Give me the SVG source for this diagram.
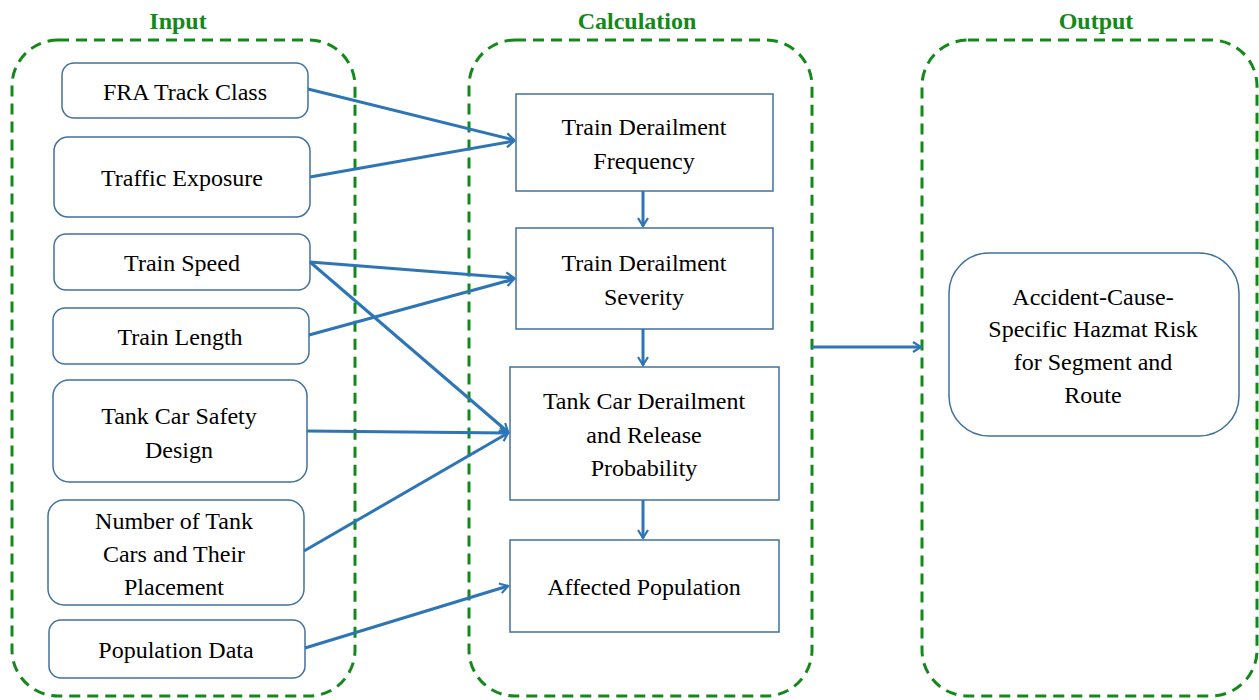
<svg xmlns="http://www.w3.org/2000/svg" width="1259" height="700" viewBox="0 0 1259 700">
<style>
.grp{fill:none;stroke:#13891a;stroke-width:3;stroke-dasharray:11 7}
.title{font-weight:bold;font-size:24px;fill:#13891a;text-anchor:middle}
.nb{fill:#fff;stroke:#41719c;stroke-width:1.5}
.t{font-size:24px;fill:#000;text-anchor:middle}
.c{fill:none;stroke:#2e75b6;stroke-width:3}
</style>
<defs>
<marker id="ah" viewBox="0 0 12 12" refX="10" refY="6" markerWidth="12" markerHeight="12" markerUnits="userSpaceOnUse" orient="auto">
<path d="M2,1 L10,6 L2,11" fill="none" stroke="#2e75b6" stroke-width="2.2"/>
</marker>
</defs>
<rect width="1259" height="700" fill="#fff"/>
<g font-family="Liberation Serif, Times New Roman, serif">
<g id="group-input">
<rect class="grp" x="12" y="40" width="343" height="656" rx="46"/>
<text class="title" x="178" y="29" font-family="Liberation Serif, serif">Input</text>
</g>
<g id="group-calculation">
<rect class="grp" x="469" y="40" width="343" height="656" rx="46"/>
<text class="title" x="637" y="29" font-family="Liberation Serif, serif">Calculation</text>
</g>
<g id="group-output">
<rect class="grp" x="922" y="40" width="335" height="656" rx="46"/>
<text class="title" x="1096" y="29" font-family="Liberation Serif, serif">Output</text>
</g>
<g id="n-fra"><rect class="nb" x="62" y="63" width="246" height="55" rx="12"/><text class="t" x="185" y="100" font-family="Liberation Serif, serif">FRA Track Class</text></g>
<g id="n-traffic"><rect class="nb" x="54" y="137" width="256" height="80" rx="14"/><text class="t" x="182" y="186" font-family="Liberation Serif, serif">Traffic Exposure</text></g>
<g id="n-speed"><rect class="nb" x="54" y="234" width="256" height="56" rx="12"/><text class="t" x="182" y="271" font-family="Liberation Serif, serif">Train Speed</text></g>
<g id="n-length"><rect class="nb" x="53" y="308" width="256" height="56" rx="12"/><text class="t" x="180" y="345" font-family="Liberation Serif, serif">Train Length</text></g>
<g id="n-safety"><rect class="nb" x="53" y="380" width="254" height="102" rx="16"/><text class="t" x="179" y="424" font-family="Liberation Serif, serif">Tank Car Safety</text><text class="t" x="179" y="458" font-family="Liberation Serif, serif">Design</text></g>
<g id="n-number"><rect class="nb" x="48" y="500" width="256" height="105" rx="16"/><text class="t" x="174" y="529" font-family="Liberation Serif, serif">Number of Tank</text><text class="t" x="174" y="562" font-family="Liberation Serif, serif">Cars and Their</text><text class="t" x="174" y="595" font-family="Liberation Serif, serif">Placement</text></g>
<g id="n-popdata"><rect class="nb" x="49" y="620" width="256" height="58" rx="12"/><text class="t" x="176" y="658" font-family="Liberation Serif, serif">Population Data</text></g>
<g id="n-freq"><rect class="nb" x="516" y="94" width="257" height="97"/><text class="t" x="644" y="135" font-family="Liberation Serif, serif">Train Derailment</text><text class="t" x="644" y="169" font-family="Liberation Serif, serif">Frequency</text></g>
<g id="n-sev"><rect class="nb" x="516" y="228" width="257" height="101"/><text class="t" x="644" y="271" font-family="Liberation Serif, serif">Train Derailment</text><text class="t" x="644" y="305" font-family="Liberation Serif, serif">Severity</text></g>
<g id="n-tank"><rect class="nb" x="510" y="367" width="269" height="133"/><text class="t" x="644" y="409" font-family="Liberation Serif, serif">Tank Car Derailment</text><text class="t" x="644" y="443" font-family="Liberation Serif, serif">and Release</text><text class="t" x="644" y="476" font-family="Liberation Serif, serif">Probability</text></g>
<g id="n-affected"><rect class="nb" x="510" y="540" width="269" height="92"/><text class="t" x="644" y="595" font-family="Liberation Serif, serif">Affected Population</text></g>
<g id="n-risk"><rect class="nb" x="949" y="253" width="290" height="183" rx="40"/><text class="t" x="1093" y="305" font-family="Liberation Serif, serif">Accident-Cause-</text><text class="t" x="1093" y="337" font-family="Liberation Serif, serif">Specific Hazmat Risk</text><text class="t" x="1093" y="370" font-family="Liberation Serif, serif">for Segment and</text><text class="t" x="1093" y="403" font-family="Liberation Serif, serif">Route</text></g>
</g>
<g id="connectors">
<line class="c" x1="308" y1="89" x2="514" y2="140" marker-end="url(#ah)"/>
<line class="c" x1="310" y1="177" x2="514" y2="141" marker-end="url(#ah)"/>
<line class="c" x1="310" y1="262" x2="514" y2="278" marker-end="url(#ah)"/>
<line class="c" x1="309" y1="335" x2="514" y2="279" marker-end="url(#ah)"/>
<line class="c" x1="310" y1="262" x2="508" y2="432" marker-end="url(#ah)"/>
<line class="c" x1="307" y1="431" x2="508" y2="433" marker-end="url(#ah)"/>
<line class="c" x1="304" y1="551" x2="508" y2="433" marker-end="url(#ah)"/>
<line class="c" x1="305" y1="648" x2="508" y2="586" marker-end="url(#ah)"/>
<line class="c" x1="643" y1="191" x2="643" y2="226" marker-end="url(#ah)"/>
<line class="c" x1="643" y1="329" x2="643" y2="365" marker-end="url(#ah)"/>
<line class="c" x1="643" y1="500" x2="643" y2="538" marker-end="url(#ah)"/>
<line class="c" x1="812" y1="347" x2="921" y2="347" marker-end="url(#ah)"/>
</g>
</svg>
